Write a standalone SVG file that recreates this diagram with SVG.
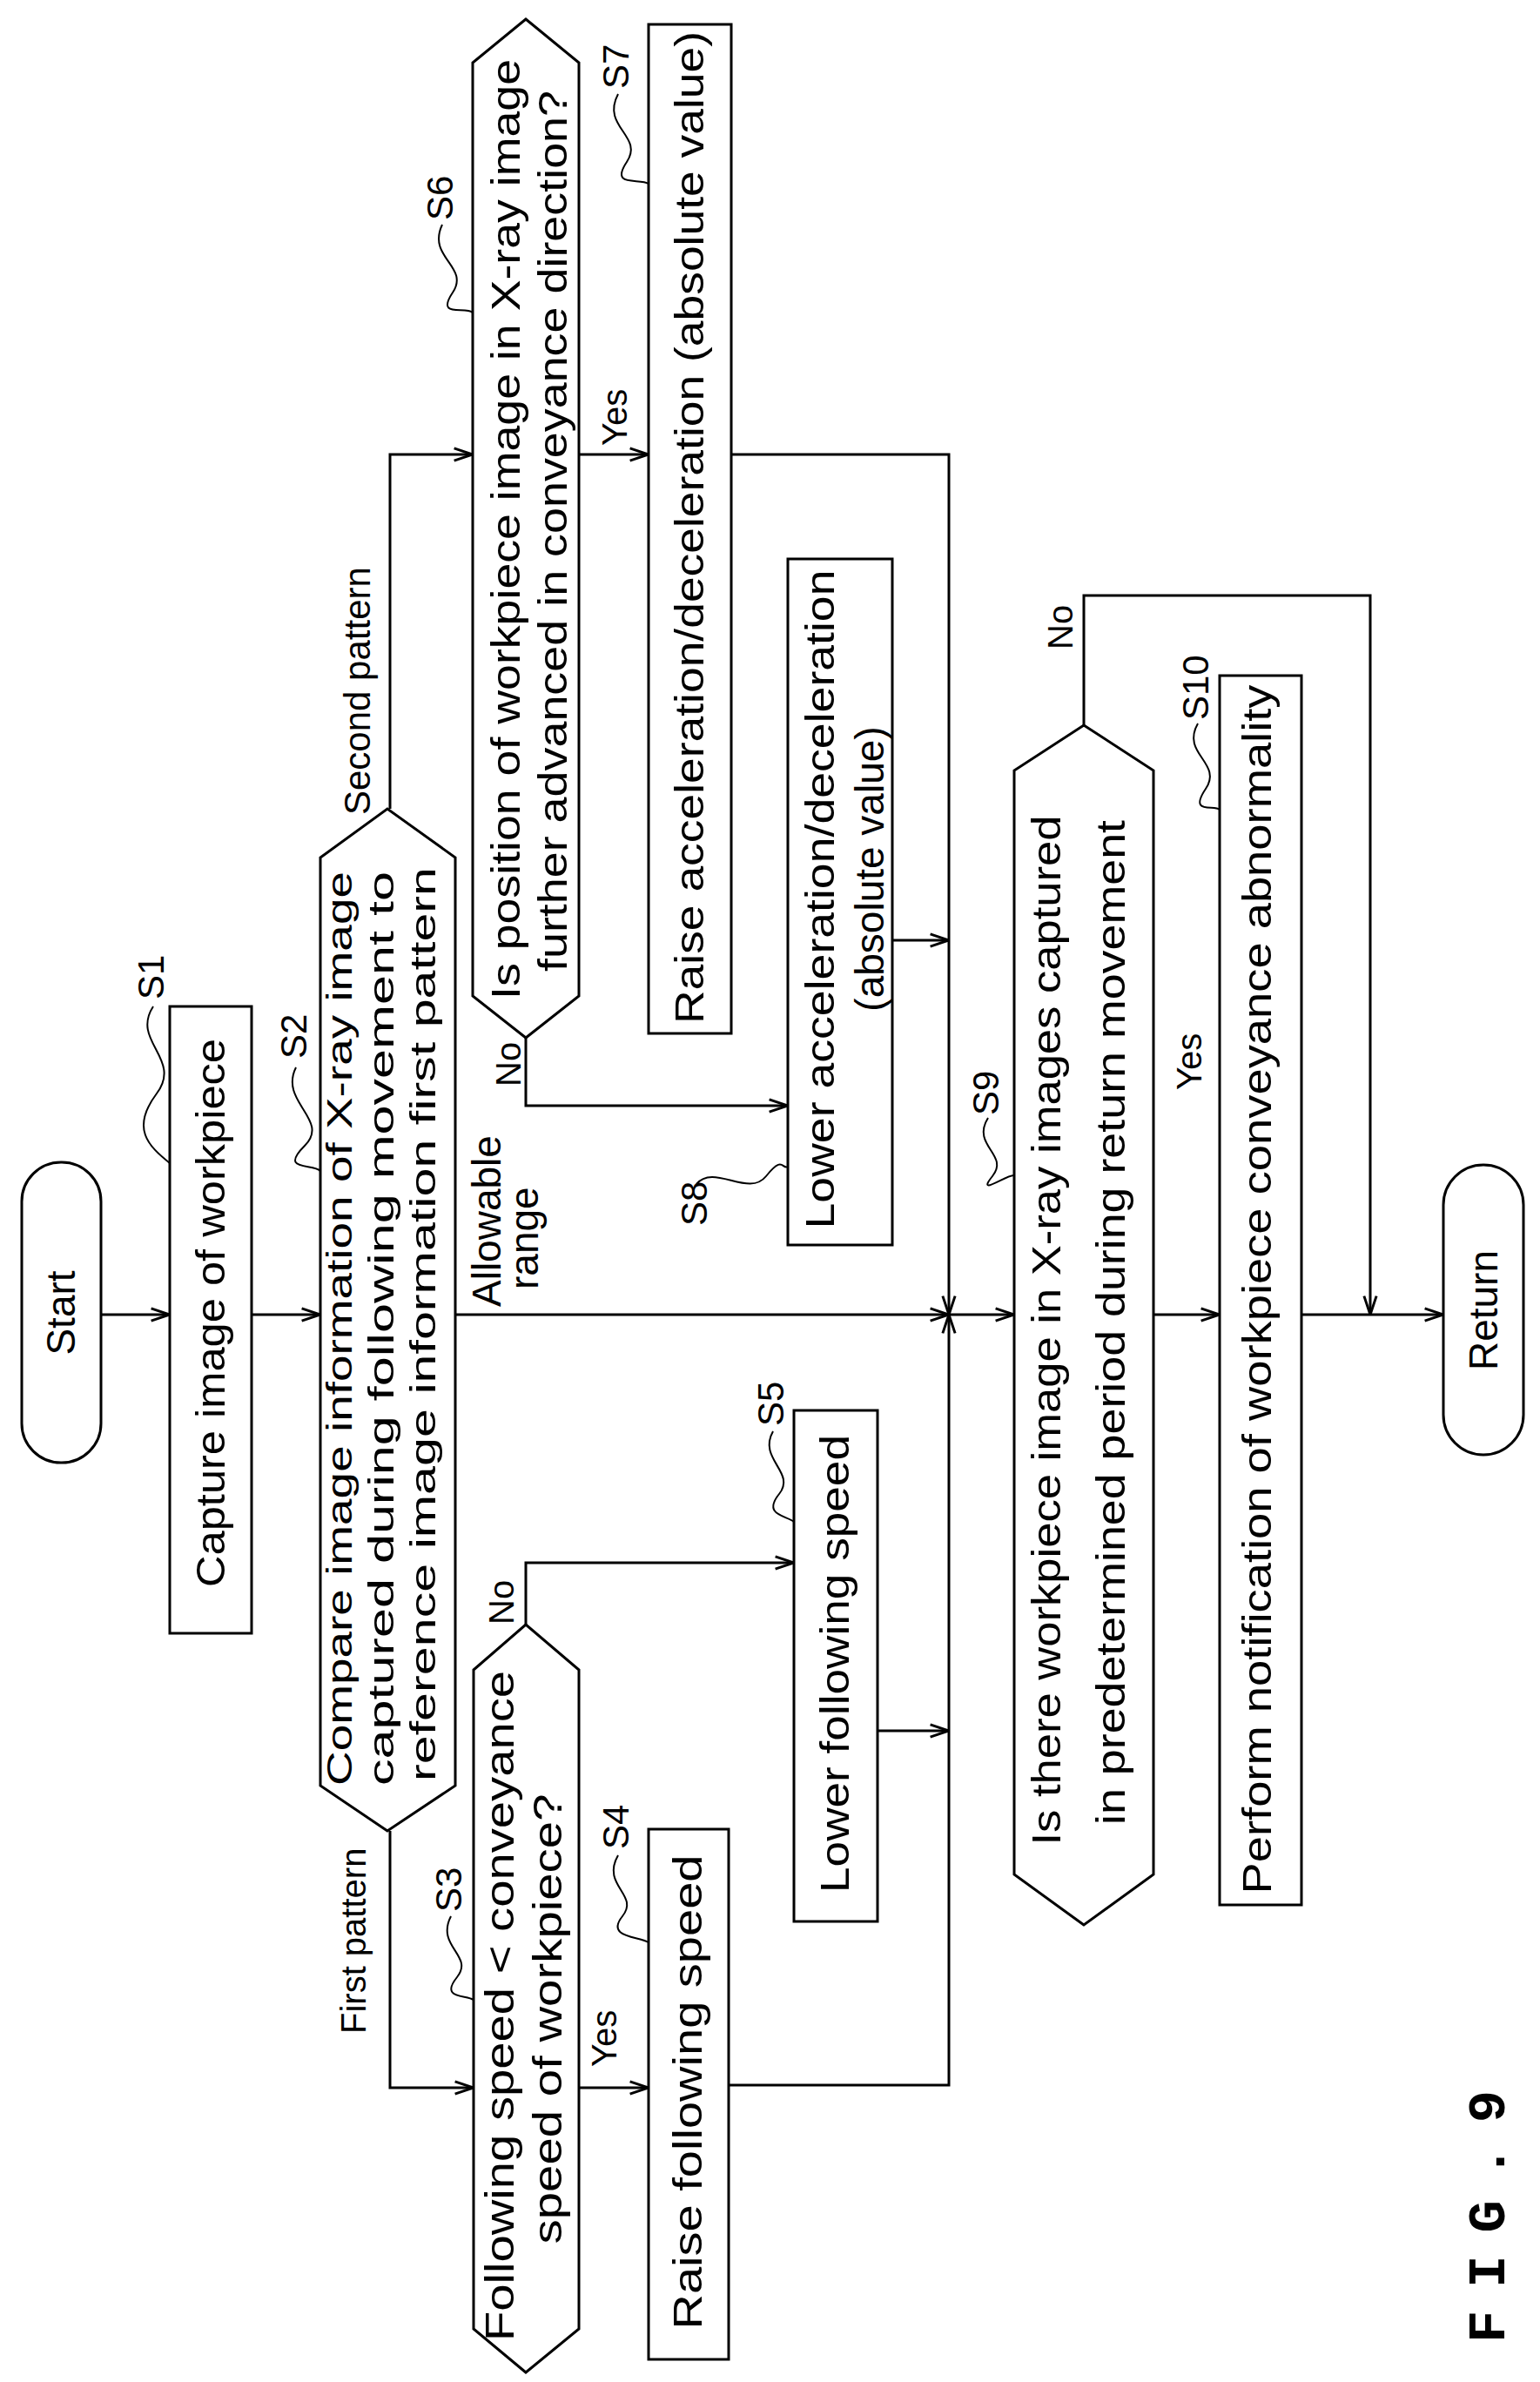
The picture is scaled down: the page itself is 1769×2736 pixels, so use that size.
<svg xmlns="http://www.w3.org/2000/svg" width="1769" height="2736" viewBox="0 0 1769 2736">
<style>
.s{fill:#fff;stroke:#000;stroke-width:3}
.c{fill:none;stroke:#000;stroke-width:3}
.l{fill:none;stroke:#000;stroke-width:2}
text{font-family:"Liberation Sans",Arial,sans-serif;font-size:46px;fill:#000}
.m{text-anchor:middle}
.lb{font-size:42px}
.y{font-size:40px}
</style>
<defs>
<marker id="a" viewBox="0 0 20 16" refX="20" refY="8" markerWidth="24" markerHeight="19" markerUnits="userSpaceOnUse" orient="auto">
<path d="M2,2 L20,8 L2,14" fill="none" stroke="#000" stroke-width="2.5"/>
</marker>
</defs>
<rect width="1769" height="2736" fill="#fff"/>
<g transform="translate(0,2736) rotate(-90)">
<g id="connectors">
<path class="c" d="M1226,116 V195" marker-end="url(#a)"/>
<path class="c" d="M1226,289 V368" marker-end="url(#a)"/>
<path class="c" d="M1226,523 V1090" marker-end="url(#a)"/>
<path class="c" d="M1226,1090 V1165" marker-end="url(#a)"/>
<path class="c" d="M1807,448 H2214 V543" marker-end="url(#a)"/>
<path class="c" d="M633,448 H338 V544" marker-end="url(#a)"/>
<path class="c" d="M338,665 V745" marker-end="url(#a)"/>
<path class="c" d="M870,604 H941 V912" marker-end="url(#a)"/>
<path class="c" d="M341,837 V1090 H1226" marker-end="url(#a)"/>
<path class="c" d="M748,1008 V1090" marker-end="url(#a)"/>
<path class="c" d="M2214,665 V745" marker-end="url(#a)"/>
<path class="c" d="M1544,604 H1466 V905" marker-end="url(#a)"/>
<path class="c" d="M2214,840 V1090 H1226" marker-end="url(#a)"/>
<path class="c" d="M1656,1025 V1090" marker-end="url(#a)"/>
<path class="c" d="M1226,1325 V1401" marker-end="url(#a)"/>
<path class="c" d="M1903,1245 H2052 V1574 H1226" marker-end="url(#a)"/>
<path class="c" d="M1226,1495 V1658" marker-end="url(#a)"/>
<text x="400" y="420" style="font-size:40px">First pattern</text>
<text x="1800" y="425" style="font-size:42px">Second pattern</text>
<text x="1235" y="575">Allowable</text>
<text x="1255" y="618">range</text>
<text class="y" x="1488" y="598">No</text>
<text class="y" x="870" y="590">No</text>
<text class="y" x="362" y="708">Yes</text>
<text class="y" x="2224" y="720">Yes</text>
<text class="y" x="1484" y="1380">Yes</text>
<text class="y" x="1990" y="1232">No</text>
</g>
<g id="start"><rect class="s" x="1056" y="25" width="345" height="91" rx="45"/><text class="m" x="1228" y="86">Start</text></g>
<g id="S1"><rect class="s" x="860" y="195" width="720" height="94"/><text class="m" x="1228" y="258" textLength="630" lengthAdjust="spacingAndGlyphs">Capture image of workpiece</text>
<text class="lb" x="1588" y="188">S1</text><path class="l" d="M1580,176 C1540,150 1520,210 1480,180 S1420,170 1400,195"/></g>
<g id="S2"><polygon class="s" points="633,445 685,368 1751,368 1807,445 1751,523 685,523"/>
<text class="m" x="1210" y="404" style="font-size:41px" textLength="1050" lengthAdjust="spacingAndGlyphs">Compare image information of X-ray image</text>
<text class="m" x="1210" y="452" style="font-size:41px" textLength="1050" lengthAdjust="spacingAndGlyphs">captured during following movement to</text>
<text class="m" x="1215" y="500" style="font-size:41px" textLength="1050" lengthAdjust="spacingAndGlyphs">reference image information first pattern</text>
<text class="lb" x="1520" y="352">S2</text><path class="l" d="M1510,340 C1470,320 1450,380 1420,350 S1400,360 1391,368"/></g>
<g id="S3"><polygon class="s" points="11,604 61,544 818,544 870,604 818,665 61,665"/>
<text class="m" x="432" y="590" textLength="770" lengthAdjust="spacingAndGlyphs">Following speed &lt; conveyance</text>
<text class="m" x="417" y="645" textLength="517" lengthAdjust="spacingAndGlyphs">speed of workpiece?</text>
<text class="lb" x="540" y="530">S3</text><path class="l" d="M535,518 C500,500 490,545 465,525 S445,535 439,544"/></g>
<g id="S4"><rect class="s" x="26" y="745" width="609" height="92"/><text class="m" x="333" y="806" textLength="545" lengthAdjust="spacingAndGlyphs">Raise following speed</text>
<text class="lb" x="612" y="722">S4</text><path class="l" d="M605,710 C570,690 560,735 535,715 S512,735 505,745"/></g>
<g id="S5"><rect class="s" x="529" y="912" width="587" height="96"/><text class="m" x="825" y="975" textLength="526" lengthAdjust="spacingAndGlyphs">Lower following speed</text>
<text class="lb" x="1098" y="900">S5</text><path class="l" d="M1092,888 C1060,870 1045,915 1020,895 S995,905 988,912"/></g>
<g id="S6"><polygon class="s" points="1544,604 1592,543 2664,543 2714,604 2664,665 1592,665"/>
<text class="m" x="2128" y="597" textLength="1080" lengthAdjust="spacingAndGlyphs">Is position of workpiece image in X-ray image</text>
<text class="m" x="2126" y="651" textLength="1012" lengthAdjust="spacingAndGlyphs">further advanced in conveyance direction?</text>
<text class="lb" x="2483" y="520">S6</text><path class="l" d="M2478,508 C2440,490 2430,540 2400,520 S2385,535 2377,543"/></g>
<g id="S7"><rect class="s" x="1549" y="745" width="1159" height="95"/><text class="m" x="2130" y="808" textLength="1140" lengthAdjust="spacingAndGlyphs">Raise acceleration/deceleration (absolute value)</text>
<text class="lb" x="2634" y="722">S7</text><path class="l" d="M2628,710 C2590,690 2580,740 2550,720 S2532,735 2525,745"/></g>
<g id="S8"><rect class="s" x="1306" y="905" width="788" height="120"/>
<text class="m" x="1703" y="958" textLength="757" lengthAdjust="spacingAndGlyphs">Lower acceleration/deceleration</text>
<text class="m" x="1738" y="1015">(absolute value)</text>
<text class="lb" x="1328" y="812">S8</text><path class="l" d="M1376,800 C1400,820 1360,860 1385,880 S1392,898 1396,905"/></g>
<g id="S9"><polygon class="s" points="525,1245 583,1165 1851,1165 1903,1245 1851,1325 583,1325"/>
<text class="m" x="1208" y="1218" textLength="1183" lengthAdjust="spacingAndGlyphs">Is there workpiece image in X-ray images captured</text>
<text class="m" x="1217" y="1292" textLength="1154" lengthAdjust="spacingAndGlyphs">in predetermined period during return movement</text>
<text class="lb" x="1455" y="1147">S9</text><path class="l" d="M1452,1135 C1420,1115 1410,1160 1385,1140 S1388,1158 1386,1165"/></g>
<g id="S10"><rect class="s" x="548" y="1401" width="1412" height="94"/>
<text class="m" x="1255" y="1460" textLength="1389" lengthAdjust="spacingAndGlyphs">Perform notification of workpiece conveyance abnormality</text>
<text class="lb" x="1909" y="1388">S10</text><path class="l" d="M1905,1376 C1870,1356 1860,1405 1830,1385 S1812,1395 1806,1401"/></g>
<g id="return"><rect class="s" x="1065" y="1658" width="333" height="92" rx="46"/><text class="m" x="1231" y="1720">Return</text></g>
<text x="45" y="1728" style="font-family:'Liberation Mono',monospace;font-weight:bold;font-size:62px" textLength="290" lengthAdjust="spacing">FIG.9</text>
</g>
</svg>
